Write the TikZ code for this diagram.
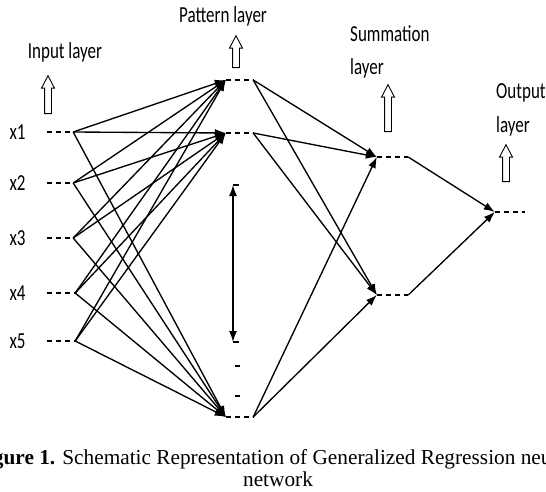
\documentclass[tikz,border=0pt]{standalone}
\usepackage{fontspec}
\setmainfont{Liberation Serif}
\newfontfamily\labelfont{Carlito}
\usetikzlibrary{arrows.meta,shapes.arrows,positioning}

\newcommand{\tall}[1]{\scalebox{1}[1.35]{#1}}

\tikzset{
  unit/.style={rectangle, inner sep=0pt, minimum height=0pt},
  dashline/.style={line width=1.5pt, dash pattern=on 5pt off 4pt},
  conn/.style={line width=1.35pt, -{Latex[length=11pt,width=8pt]}},
  lbl/.style={font=\labelfont\fontsize{17}{33}\selectfont, inner sep=0pt},
  uparrow/.style={single arrow, draw, line width=0.9pt, shape border rotate=90,
    inner sep=3pt, single arrow head extend=3pt, single arrow tip angle=55,
    minimum width=12pt},
}

\begin{document}
\begin{tikzpicture}[x=1pt, y=-1pt]
        \useasboundingbox (0,0) rectangle (546,492);
        % layers
        \node[unit, minimum width=26pt] (in1) at (60,132) {};
        \node[unit, minimum width=26pt] (in2) at (60,183) {};
        \node[unit, minimum width=26pt] (in3) at (60,238) {};
        \node[unit, minimum width=28pt] (in4) at (61,293) {};
        \node[unit, minimum width=28pt] (in5) at (61,341) {};
        \node[unit, minimum width=27pt] (pat1) at (239.5,80) {};
        \node[unit, minimum width=27pt] (pat2) at (239.5,133) {};
        \node[unit, minimum width=27pt] (pat3) at (239.5,417) {};
        \node[unit, minimum width=31pt] (sum1) at (392.5,157) {};
        \node[unit, minimum width=31pt] (sum2) at (392.5,295) {};
        \node[unit, minimum width=30pt] (out) at (510,212) {};
        \foreach \n in {in1,in2,in3,in4,in5,pat1,pat2,pat3,sum1,sum2,out}
          \draw[dashline] (\n.west) -- (\n.east);
        % input labels
        \foreach \i in {1,...,5}
          \node[lbl, left=21pt of in\i] (x\i) {\tall{x\i}};
        % connections
        \foreach \i in {1,...,5}
          \foreach \j in {1,2,3}
            \draw[conn] (in\i.east) -- (pat\j.west);
        \foreach \j in {1,2,3}
          \foreach \k in {1,2}
            \draw[conn] (pat\j.east) -- (sum\k.west);
        \draw[conn] (sum1.east) -- (out.west);
        \draw[conn] (sum2.east) -- (out.west);
        % hidden pattern units
        \coordinate (gaptop) at (233,185);
        \coordinate (gapbot) at (233,342);
        \draw[line width=1.35pt, {Latex[length=11pt,width=8pt]}-{Latex[length=11pt,width=8pt]}]
          (gaptop) -- (gapbot);
        \draw[line width=1.1pt] (gaptop) -- ++(6,0);
        \draw[line width=1.1pt] (gapbot) -- ++(6,0);
        \draw[line width=1.5pt] (235,366) -- ++(5,0);
        \draw[line width=1.5pt] (235,396) -- ++(5,0);
        % layer titles
        \node[uparrow, minimum height=38pt] (inarr) at (48,98) {};
        \node[uparrow, minimum height=32pt] (patarr) at (236,55) {};
        \node[uparrow, minimum height=47pt] (sumarr) at (388,111.5) {};
        \node[uparrow, minimum height=37pt] (outarr) at (506,166.5) {};
        \node[lbl, anchor=base] (inlbl) at (65,59) {\tall{Input layer}};
        \node[lbl, anchor=base] (patlbl) at (223,23) {\tall{Pattern layer}};
        \node[lbl, align=left, anchor=base west] (sumlbl) at (350,75)
          {\tall{Summation}\\\tall{layer}};
        \node[lbl, align=left, anchor=base west] (outlbl) at (496,132)
          {\tall{Output}\\\tall{layer}};
        % caption
        \begin{scope}
          \clip (0,0) rectangle (546,492);
          \node[font=\fontsize{21.3}{26}\selectfont, inner sep=0pt, anchor=base] (cap) at (274,464)
            {\textbf{Figure 1.} Schematic Representation of Generalized Regression neural};
          \node[font=\fontsize{21.3}{26}\selectfont, inner sep=0pt, anchor=base] (cap2) at (278,486) {network};
        \end{scope}
      \end{tikzpicture}
\end{document}
